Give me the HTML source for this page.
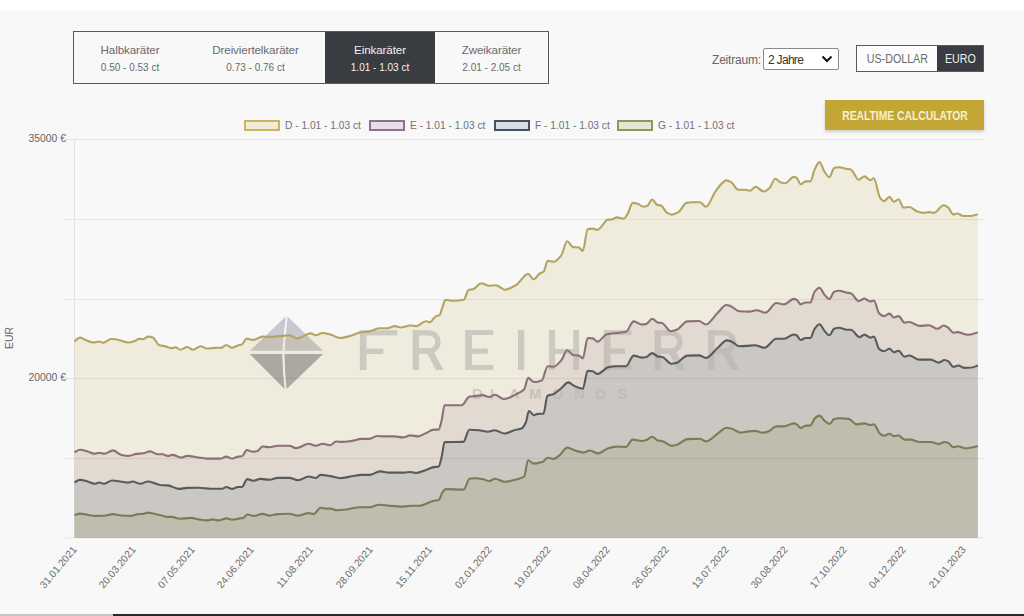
<!DOCTYPE html>
<html><head><meta charset="utf-8">
<style>
*{margin:0;padding:0;box-sizing:border-box}
html,body{width:1024px;height:616px;overflow:hidden;background:#f8f8f8;font-family:"Liberation Sans",sans-serif}
#topw{position:absolute;left:0;top:0;width:1024px;height:11px;background:#fff}
.abs{position:absolute}
#tabs{position:absolute;left:73px;top:31px;width:476px;height:53px;border:1px solid #5a5a5a;display:flex}
.tab{height:51px;text-align:center;color:#6a6a6a;padding-top:10.6px}
.tab .t1{font-size:11.6px;line-height:14px;height:14px;display:block;letter-spacing:-0.1px}
.tab .t2{font-size:10px;line-height:12px;margin-top:5.4px;display:block}
.tab.act{background:#393c41;color:#f2f2f2}
#zeit{position:absolute;left:712px;top:52.5px;font-size:12px;color:#666;letter-spacing:-0.2px}
#sel{position:absolute;left:763px;top:48px;width:76px;height:22px;background:#fff;border:1px solid #8a8a8a;border-radius:2px;font-size:12px;color:#333;padding:3.5px 0 0 4px;letter-spacing:-0.7px}
#cur{position:absolute;left:856px;top:45px;width:128px;height:27px;border:1px solid #5a5a5a;display:flex;font-size:12px}
#cur .u{width:80px;background:#fcfcfc;color:#6a6a6a;text-align:center;padding-top:6px}
#cur span{display:inline-block;transform:scaleX(0.89)}
#cur .e{flex:1;background:#393c41;color:#f0f0f0;text-align:center;padding-top:6px}
#btn{position:absolute;left:825px;top:100px;width:159px;height:30px;background:#c4a636;box-shadow:0 2px 3px rgba(0,0,0,0.18);color:#f8f1cf;font-weight:bold;font-size:12px;text-align:center;line-height:32px}
#btn span{display:inline-block;transform:scaleX(0.86)}
.lg{position:absolute;top:120px;width:36px;height:11px;border:2px solid}
.lt{position:absolute;top:120px;font-size:10.2px;color:#717171;white-space:nowrap}
.yl{position:absolute;font-size:10.4px;color:#666;white-space:nowrap;text-align:right;width:60px}
.xl{position:absolute;font-size:10.2px;color:#6c6c6c;white-space:nowrap;transform-origin:100% 50%;transform:rotate(-50deg);line-height:12px}
#bot1{position:absolute;left:0;top:614px;width:113px;height:2px;background:#c6c6c6}
#bot2{position:absolute;left:113px;top:614px;width:911px;height:2px;background:#2a2a2a}
</style></head><body>
<div id="topw"></div>
<div id="tabs">
 <div class="tab" style="width:112px"><span class="t1">Halbkaräter</span><span class="t2">0.50 - 0.53 ct</span></div>
 <div class="tab" style="width:139px"><span class="t1">Dreiviertelkaräter</span><span class="t2">0.73 - 0.76 ct</span></div>
 <div class="tab act" style="width:110px"><span class="t1">Einkaräter</span><span class="t2">1.01 - 1.03 ct</span></div>
 <div class="tab" style="width:113px"><span class="t1">Zweikaräter</span><span class="t2">2.01 - 2.05 ct</span></div>
</div>
<div id="zeit">Zeitraum:</div>
<div id="sel">2 Jahre<svg class="abs" style="left:57px;top:6px" width="12" height="8" viewBox="0 0 12 8"><path d="M1.5,1.5 L6,6 L10.5,1.5" fill="none" stroke="#111" stroke-width="2"/></svg></div>
<div id="cur"><div class="u"><span>US-DOLLAR</span></div><div class="e"><span>EURO</span></div></div>
<div id="btn"><span>REALTIME CALCULATOR</span></div>

<div class="lg" style="left:244px;background:#f0ead7;border-color:#c9b466"></div><div class="lt" style="left:285px">D - 1.01 - 1.03 ct</div>
<div class="lg" style="left:369px;background:#e8dee8;border-color:#8f7090"></div><div class="lt" style="left:410px">E - 1.01 - 1.03 ct</div>
<div class="lg" style="left:494px;background:#d8dee4;border-color:#405468"></div><div class="lt" style="left:535px">F - 1.01 - 1.03 ct</div>
<div class="lg" style="left:617px;background:#e4e6d6;border-color:#8c9a56"></div><div class="lt" style="left:658px">G - 1.01 - 1.03 ct</div>

<svg class="abs" style="left:0;top:0" width="1024" height="616" viewBox="0 0 1024 616">
<g stroke="#e3e3e3" stroke-width="1">
<line x1="65" y1="139.5" x2="984" y2="139.5"/>
<line x1="65" y1="219.5" x2="75" y2="219.5"/>
<line x1="65" y1="299.5" x2="75" y2="299.5"/>
<line x1="65" y1="378.5" x2="75" y2="378.5"/>
<line x1="65" y1="458.5" x2="75" y2="458.5"/>
<line x1="65" y1="538" x2="984" y2="538"/>
<line x1="74.5" y1="139" x2="74.5" y2="538"/>
</g>
<g opacity="1">
<path d="M286,316.2 L249.8,350.8 L282.3,350.8 Q283.6,333 286,316.2 Z" fill="#c8c8cf"/>
<path d="M287.6,316.6 L323,350.8 L284.6,350.8 Q285.6,333 287.6,316.6 Z" fill="#c8c8cf"/>
<path d="M249.8,353.9 L282.2,353.9 Q282.6,372 284.6,389 Z" fill="#a7aab4"/>
<path d="M323,353.9 L284.5,353.9 Q284.8,372 286.6,389 Z" fill="#a7aab4"/>
</g>
<g fill="#ced0d6" stroke="#ced0d6" stroke-width="0">
<rect x="359.9" y="330.2" width="6.6" height="39.8"/><rect x="359.9" y="330.2" width="37.6" height="5.2"/><rect x="359.9" y="348.6" width="23.4" height="5.4"/>
<rect x="412.6" y="330.2" width="6.4" height="39.8"/><path d="M415.6,332.8 H428.8 A9.1,9.1 0 0 1 428.8,351 H415.6" fill="none" stroke-width="5.3"/><path d="M426.1,351.5 L433.6,351.5 L443.6,370 L436.1,370 Z"/>
<rect x="465.3" y="330.1" width="6.6" height="39.8"/><rect x="465.3" y="330.1" width="28" height="4.9"/><rect x="465.3" y="348.5" width="22.4" height="5.3"/><rect x="465.3" y="365" width="28" height="4.9"/>
<rect x="518" y="330.1" width="6.3" height="39.8"/>
<rect x="549" y="330.1" width="6.1" height="39.8"/><rect x="573.2" y="330.1" width="5.9" height="39.8"/><rect x="549" y="348.9" width="30" height="4.9"/>
<rect x="603.9" y="330.1" width="6.6" height="39.8"/><rect x="603.9" y="330.1" width="27.4" height="4.9"/><rect x="603.9" y="348.5" width="21.1" height="5.3"/><rect x="603.9" y="365" width="27.4" height="4.9"/>
<rect x="654.5" y="330.2" width="6.4" height="39.8"/><path d="M657.5,332.8 H670.7 A9.1,9.1 0 0 1 670.7,351 H657.5" fill="none" stroke-width="5.3"/><path d="M668.0,351.5 L675.5,351.5 L685.5,370 L678.0,370 Z"/>
<rect x="708.1" y="330.2" width="6.4" height="39.8"/><path d="M711.1,332.8 H724.3000000000001 A9.1,9.1 0 0 1 724.3000000000001,351 H711.1" fill="none" stroke-width="5.3"/><path d="M721.6,351.5 L729.1,351.5 L739.1,370 L731.6,370 Z"/>
</g>
<g fill="#d0d1d6" font-family="Liberation Sans" font-size="15" font-weight="bold">
<text x="472" y="398.5">D</text><text x="490" y="398.5">I</text><text x="509" y="398.5">A</text><text x="529" y="398.5">M</text><text x="552" y="398.5">O</text><text x="574" y="398.5">N</text><text x="595" y="398.5">D</text><text x="617" y="398.5">S</text>
</g>

<path d="M74.5,341.5 C76.3,340.2 78.0,337.6 79.8,337.6 C81.7,337.6 83.7,339.2 85.6,339.9 C88.2,340.8 90.8,342.5 93.4,342.5 C95.4,342.5 97.3,341.5 99.3,341.5 C100.6,341.5 101.9,342.9 103.2,342.9 C105.8,342.9 108.4,339.0 111.0,339.0 C113.0,339.0 114.9,339.3 116.9,339.5 C120.8,340.0 124.7,342.5 128.6,342.5 C130.6,342.5 132.5,341.7 134.5,341.1 C136.1,340.6 137.7,338.9 139.3,338.9 C140.6,338.9 141.9,339.1 143.2,339.1 C144.8,339.1 146.5,336.6 148.1,336.6 C149.7,336.6 151.4,337.0 153.0,337.6 C155.0,338.3 156.9,344.3 158.9,345.0 C161.2,345.8 163.4,345.8 165.7,346.4 C167.7,346.9 169.6,348.3 171.6,348.3 C172.9,348.3 174.2,347.3 175.5,347.3 C177.1,347.3 178.7,349.7 180.3,349.7 C182.6,349.7 184.9,347.0 187.2,347.0 C189.1,347.0 191.1,349.7 193.0,349.7 C195.6,349.7 198.3,346.2 200.9,346.2 C202.8,346.2 204.8,348.5 206.7,348.5 C209.3,348.5 211.9,348.0 214.5,347.9 C216.8,347.8 219.1,347.8 221.4,347.7 C223.0,347.6 224.7,345.0 226.3,345.0 C228.2,345.0 230.2,347.7 232.1,347.7 C234.1,347.7 236.0,346.0 238.0,345.4 C239.3,345.0 240.6,344.9 241.9,344.4 C243.5,343.7 245.2,338.6 246.8,338.6 C248.7,338.6 250.7,340.1 252.6,340.1 C254.2,340.1 255.9,339.2 257.5,338.6 C259.1,338.0 260.8,336.6 262.4,336.6 C265.5,336.6 268.6,336.9 271.7,336.9 C277.6,336.9 283.4,335.3 289.3,335.3 C291.9,335.3 294.5,338.4 297.1,338.4 C301.7,338.4 306.2,333.4 310.8,333.4 C312.4,333.4 314.1,335.3 315.7,335.3 C318.0,335.3 320.2,333.0 322.5,333.0 C325.1,333.0 327.7,333.9 330.3,334.5 C333.6,335.3 336.8,338.0 340.1,338.0 C343.3,338.0 346.6,336.9 349.8,336.1 C353.1,335.3 356.3,333.2 359.6,332.6 C362.9,332.0 366.1,332.0 369.4,331.4 C372.6,330.8 375.9,328.3 379.1,328.3 C381.7,328.3 384.4,328.3 387.0,328.3 C389.6,328.3 392.2,326.1 394.8,326.1 C396.7,326.1 398.7,327.5 400.6,327.5 C403.9,327.5 407.1,325.5 410.4,325.5 C412.4,325.5 414.3,326.1 416.3,326.1 C419.5,326.1 422.8,321.3 426.0,321.3 C427.3,321.3 428.6,322.2 429.9,322.2 C431.9,322.2 433.8,317.4 435.8,316.4 C437.1,315.7 438.4,315.9 439.7,315.0 C440.7,314.4 441.6,309.1 442.6,306.6 C443.6,304.1 444.5,299.8 445.5,299.8 C447.5,299.8 449.4,300.7 451.4,300.7 C455.5,300.7 459.6,300.5 463.7,299.8 C465.3,299.5 467.0,290.7 468.6,290.1 C470.2,289.5 471.8,289.6 473.4,289.1 C476.0,288.3 478.7,283.2 481.3,283.2 C483.9,283.2 486.5,285.8 489.1,285.8 C491.4,285.8 493.6,285.2 495.9,285.2 C498.8,285.2 501.8,289.7 504.7,289.7 C508.6,289.7 512.5,287.1 516.4,284.8 C520.3,282.5 524.2,273.9 528.1,273.9 C529.9,273.9 531.8,279.3 533.6,279.3 C535.7,279.3 537.7,274.8 539.8,273.5 C541.1,272.7 542.4,272.6 543.7,271.5 C545.0,270.4 546.4,260.8 547.7,260.8 C549.6,260.8 551.6,261.8 553.5,261.8 C556.1,261.8 558.7,258.6 561.3,255.3 C563.3,252.8 565.2,241.3 567.2,241.3 C569.1,241.3 571.1,246.9 573.0,247.1 C575.0,247.4 576.9,247.2 578.9,247.5 C580.2,247.7 581.5,251.0 582.8,251.0 C584.4,251.0 586.1,229.4 587.7,229.1 C589.3,228.8 591.0,228.6 592.6,228.6 C594.2,228.6 595.9,229.9 597.5,229.9 C599.1,229.9 600.7,227.2 602.3,225.6 C603.9,223.9 605.6,220.0 607.2,219.8 C608.8,219.6 610.5,219.6 612.1,219.4 C613.7,219.2 615.4,217.4 617.0,217.4 C619.3,217.4 621.6,218.5 623.9,218.5 C625.2,218.5 626.5,215.7 627.8,213.6 C629.4,211.0 631.1,202.9 632.7,202.9 C634.3,202.9 636.0,203.4 637.6,203.8 C639.5,204.3 641.5,206.8 643.4,206.8 C644.7,206.8 646.0,206.3 647.3,205.8 C648.9,205.1 650.6,199.5 652.2,199.5 C653.8,199.5 655.5,204.4 657.1,204.8 C658.4,205.1 659.7,205.1 661.0,205.4 C663.0,205.9 664.9,211.4 666.9,212.6 C668.5,213.6 670.2,214.6 671.8,214.6 C674.1,214.6 676.3,213.3 678.6,212.0 C681.2,210.5 683.8,203.4 686.4,202.9 C688.4,202.5 690.3,202.3 692.3,202.3 C694.9,202.3 697.5,202.3 700.1,202.3 C702.0,202.3 704.0,206.8 705.9,206.8 C709.2,206.8 712.4,195.1 715.7,191.1 C719.3,186.7 722.8,180.4 726.4,180.4 C728.0,180.4 729.7,181.4 731.3,182.3 C733.6,183.6 735.9,189.8 738.2,189.8 C740.5,189.8 742.7,189.8 745.0,189.8 C746.6,189.8 748.3,190.7 749.9,190.7 C751.8,190.7 753.8,186.8 755.7,186.8 C758.3,186.8 761.0,191.5 763.6,191.5 C765.5,191.5 767.5,189.8 769.4,188.2 C771.4,186.6 773.3,178.8 775.3,178.8 C776.9,178.8 778.6,181.8 780.2,182.3 C781.8,182.8 783.4,183.3 785.0,183.3 C787.9,183.3 790.9,176.9 793.8,176.9 C794.8,176.9 795.8,177.4 796.8,178.0 C798.1,178.8 799.4,184.3 800.7,184.3 C802.3,184.3 803.9,181.4 805.5,181.4 C807.1,181.4 808.8,181.4 810.4,181.4 C811.8,181.4 813.2,172.3 814.6,169.5 C816.2,166.3 817.9,162.1 819.5,162.1 C821.1,162.1 822.8,169.1 824.4,171.5 C826.0,173.9 827.7,177.3 829.3,177.3 C830.9,177.3 832.6,168.5 834.2,168.0 C835.8,167.5 837.5,167.2 839.1,167.2 C841.7,167.2 844.3,168.4 846.9,168.9 C848.2,169.1 849.5,169.2 850.8,169.5 C853.4,170.2 856.0,179.7 858.6,179.7 C860.6,179.7 862.5,176.4 864.5,176.4 C866.4,176.4 868.4,180.3 870.3,180.3 C871.5,180.3 872.6,178.3 873.8,178.3 C875.9,178.3 878.0,195.2 880.1,197.9 C881.4,199.6 882.7,201.2 884.0,201.2 C885.8,201.2 887.7,196.9 889.5,196.9 C890.9,196.9 892.4,201.8 893.8,201.8 C895.4,201.8 897.0,199.2 898.6,199.2 C900.2,199.2 901.9,207.6 903.5,207.6 C905.5,207.6 907.4,207.0 909.4,207.0 C912.0,207.0 914.6,210.6 917.2,211.5 C919.1,212.1 921.1,212.9 923.0,212.9 C925.0,212.9 926.9,212.1 928.9,212.1 C930.5,212.1 932.2,212.9 933.8,212.9 C937.1,212.9 940.3,205.3 943.6,205.3 C945.2,205.3 946.8,206.5 948.4,207.6 C950.0,208.8 951.7,214.5 953.3,214.5 C954.6,214.5 955.9,213.5 957.2,213.5 C959.2,213.5 961.1,216.0 963.1,216.0 C965.4,216.0 967.6,216.0 969.9,216.0 C972.5,216.0 975.2,214.9 977.8,214.3 L977.8,538 L74.5,538 Z" fill="rgba(188,161,68,0.15)"/>
<path d="M74.5,452.3 C76.3,451.5 78.0,449.8 79.8,449.8 C82.4,449.8 85.0,450.7 87.6,451.4 C89.9,452.0 92.1,453.7 94.4,453.7 C96.0,453.7 97.7,452.7 99.3,452.7 C100.9,452.7 102.6,453.7 104.2,453.7 C107.1,453.7 110.1,450.4 113.0,450.4 C115.6,450.4 118.2,454.1 120.8,454.7 C123.4,455.3 126.0,455.9 128.6,455.9 C131.2,455.9 133.8,454.2 136.4,453.9 C138.7,453.6 140.9,453.6 143.2,453.3 C145.5,453.0 147.8,451.4 150.1,451.4 C152.7,451.4 155.3,454.3 157.9,454.3 C159.5,454.3 161.2,454.3 162.8,454.3 C164.4,454.3 166.1,455.9 167.7,455.9 C169.3,455.9 170.9,454.9 172.5,454.9 C175.4,454.9 178.4,457.6 181.3,457.6 C183.3,457.6 185.2,455.9 187.2,455.9 C190.5,455.9 193.7,456.7 197.0,457.2 C200.2,457.6 203.5,458.6 206.7,458.6 C211.3,458.6 215.8,458.6 220.4,458.6 C222.4,458.6 224.3,456.6 226.3,456.6 C228.2,456.6 230.2,458.6 232.1,458.6 C234.1,458.6 236.0,456.8 238.0,456.6 C239.3,456.4 240.6,456.5 241.9,456.3 C243.5,456.1 245.2,450.0 246.8,450.0 C248.7,450.0 250.7,451.8 252.6,451.8 C254.2,451.8 255.9,451.5 257.5,451.0 C259.1,450.5 260.8,446.5 262.4,446.5 C264.9,446.5 267.3,447.3 269.8,447.3 C272.4,447.3 275.0,445.8 277.6,445.8 C281.5,445.8 285.4,445.8 289.3,445.8 C291.6,445.8 293.8,448.1 296.1,448.1 C300.3,448.1 304.6,443.8 308.8,443.8 C311.1,443.8 313.4,445.8 315.7,445.8 C318.0,445.8 320.2,443.8 322.5,443.8 C325.1,443.8 327.7,445.2 330.3,445.2 C332.3,445.2 334.2,441.5 336.2,441.5 C338.1,441.5 340.1,441.9 342.0,441.9 C345.3,441.9 348.5,441.3 351.8,440.9 C355.1,440.5 358.3,438.9 361.6,438.9 C364.2,438.9 366.8,438.9 369.4,438.9 C372.0,438.9 374.6,436.0 377.2,436.0 C379.8,436.0 382.4,436.4 385.0,436.4 C388.3,436.4 391.5,436.4 394.8,436.4 C397.4,436.4 400.0,437.4 402.6,437.4 C405.2,437.4 407.8,435.4 410.4,435.4 C413.0,435.4 415.6,436.4 418.2,436.4 C420.8,436.4 423.4,434.2 426.0,433.1 C428.6,432.0 431.2,429.6 433.8,429.6 C435.4,429.6 437.1,429.6 438.7,429.6 C439.7,429.6 440.6,424.2 441.6,420.4 C442.6,416.5 443.6,405.2 444.6,405.2 C446.2,405.2 447.9,405.2 449.5,405.2 C453.6,405.2 457.6,405.2 461.7,405.2 C464.3,405.2 466.9,397.0 469.5,396.6 C471.5,396.3 473.4,396.3 475.4,396.1 C477.7,395.9 479.9,395.1 482.2,395.1 C484.5,395.1 486.8,397.0 489.1,397.0 C491.0,397.0 493.0,394.7 494.9,394.7 C497.8,394.7 500.8,399.0 503.7,399.0 C507.9,399.0 512.2,396.2 516.4,394.1 C519.0,392.8 521.6,392.1 524.2,389.2 C525.5,387.8 526.8,377.9 528.1,377.9 C530.1,377.9 532.0,382.0 534.0,382.0 C536.6,382.0 539.2,381.4 541.8,380.4 C543.8,379.6 545.7,366.2 547.7,366.2 C549.6,366.2 551.6,366.8 553.5,366.8 C556.1,366.8 558.7,363.3 561.3,360.3 C563.3,358.1 565.2,350.2 567.2,350.2 C569.1,350.2 571.1,354.6 573.0,355.0 C575.0,355.4 576.9,355.2 578.9,355.6 C580.2,355.8 581.5,358.4 582.8,358.4 C584.4,358.4 586.1,338.0 587.7,338.0 C589.3,338.0 591.0,338.2 592.6,338.4 C594.2,338.6 595.9,341.8 597.5,341.8 C600.4,341.8 603.4,335.3 606.3,334.5 C609.5,333.6 612.8,333.4 616.0,333.0 C619.3,332.6 622.6,332.6 625.9,331.8 C628.5,331.2 631.1,321.4 633.7,321.4 C636.3,321.4 638.9,324.5 641.5,324.5 C643.1,324.5 644.8,324.2 646.4,323.9 C648.3,323.5 650.3,318.7 652.2,318.7 C654.2,318.7 656.1,322.3 658.1,322.6 C659.4,322.8 660.7,322.8 662.0,323.0 C664.9,323.5 667.9,331.2 670.8,331.2 C672.7,331.2 674.7,330.5 676.6,329.8 C680.2,328.5 683.8,321.6 687.4,321.4 C691.3,321.1 695.2,321.0 699.1,321.0 C701.4,321.0 703.6,324.5 705.9,324.5 C709.8,324.5 713.8,316.5 717.7,312.8 C720.6,310.1 723.5,305.0 726.4,305.0 C728.0,305.0 729.7,305.8 731.3,306.4 C733.9,307.4 736.5,311.1 739.1,311.3 C742.4,311.5 745.6,311.6 748.9,311.6 C751.5,311.6 754.1,310.3 756.7,310.3 C759.6,310.3 762.6,312.6 765.5,312.6 C769.1,312.6 772.7,303.0 776.3,303.0 C778.9,303.0 781.5,304.4 784.1,304.4 C787.3,304.4 790.6,298.9 793.8,298.9 C794.8,298.9 795.8,299.4 796.8,299.9 C798.1,300.6 799.4,304.4 800.7,304.4 C802.3,304.4 803.9,302.5 805.5,302.5 C807.1,302.5 808.8,302.5 810.4,302.5 C811.8,302.5 813.2,293.4 814.6,291.7 C816.2,289.7 817.9,287.8 819.5,287.8 C821.1,287.8 822.8,292.8 824.4,294.6 C826.0,296.4 827.7,299.1 829.3,299.1 C830.9,299.1 832.6,292.3 834.2,291.7 C835.8,291.1 837.5,290.7 839.1,290.7 C841.7,290.7 844.3,292.2 846.9,292.7 C848.2,292.9 849.5,293.0 850.8,293.3 C853.4,293.9 856.0,301.1 858.6,301.1 C860.6,301.1 862.5,298.6 864.5,298.6 C866.4,298.6 868.4,301.5 870.3,301.5 C871.5,301.5 872.6,300.5 873.8,300.5 C875.6,300.5 877.3,311.5 879.1,313.2 C880.7,314.7 882.4,316.1 884.0,316.1 C885.8,316.1 887.7,313.6 889.5,313.6 C890.9,313.6 892.4,317.5 893.8,317.5 C895.4,317.5 897.0,316.1 898.6,316.1 C900.6,316.1 902.5,322.6 904.5,322.6 C906.1,322.6 907.8,322.0 909.4,322.0 C912.6,322.0 915.9,325.9 919.1,325.9 C922.4,325.9 925.6,325.3 928.9,325.3 C931.8,325.3 934.8,328.8 937.7,328.8 C939.7,328.8 941.6,325.5 943.6,325.5 C945.2,325.5 946.8,326.8 948.4,327.9 C950.0,329.0 951.7,332.7 953.3,332.7 C954.6,332.7 955.9,332.1 957.2,332.1 C960.8,332.1 964.4,334.7 968.0,334.7 C971.3,334.7 974.5,333.2 977.8,332.5 L977.8,538 L74.5,538 Z" fill="rgba(196,175,178,0.3)"/>
<path d="M74.5,482.5 C76.3,481.6 78.0,479.9 79.8,479.9 C82.4,479.9 85.0,480.8 87.6,481.5 C89.9,482.1 92.1,483.8 94.4,483.8 C96.0,483.8 97.7,482.5 99.3,482.5 C100.9,482.5 102.6,483.8 104.2,483.8 C106.8,483.8 109.4,480.5 112.0,480.5 C114.9,480.5 117.9,481.1 120.8,481.5 C123.4,481.8 126.0,482.5 128.6,482.5 C129.9,482.5 131.2,481.5 132.5,481.5 C135.1,481.5 137.7,483.8 140.3,483.8 C142.9,483.8 145.5,481.5 148.1,481.5 C150.1,481.5 152.0,482.4 154.0,483.0 C155.9,483.6 157.9,484.8 159.8,485.0 C162.4,485.2 165.1,485.2 167.7,485.4 C171.6,485.7 175.5,488.9 179.4,488.9 C182.0,488.9 184.6,488.0 187.2,487.9 C191.1,487.8 195.0,487.7 198.9,487.7 C202.8,487.7 206.7,488.7 210.6,488.7 C214.5,488.7 218.4,488.7 222.3,488.7 C223.6,488.7 225.0,487.0 226.3,487.0 C228.2,487.0 230.2,488.9 232.1,488.9 C234.1,488.9 236.0,487.0 238.0,487.0 C239.3,487.0 240.6,487.0 241.9,487.0 C243.7,487.0 245.5,479.1 247.3,479.1 C249.4,479.1 251.5,480.7 253.6,480.7 C255.9,480.7 258.1,478.9 260.4,478.9 C263.5,478.9 266.7,479.8 269.8,479.8 C272.4,479.8 275.0,477.9 277.6,477.9 C281.5,477.9 285.4,477.9 289.3,477.9 C292.2,477.9 295.2,480.2 298.1,480.2 C301.7,480.2 305.2,476.5 308.8,476.5 C311.1,476.5 313.4,478.0 315.7,478.0 C317.3,478.0 318.9,474.9 320.5,474.9 C323.8,474.9 327.0,475.6 330.3,476.1 C333.6,476.6 336.8,478.2 340.1,478.2 C344.0,478.2 347.9,476.9 351.8,476.3 C355.1,475.8 358.3,474.9 361.6,474.9 C364.2,474.9 366.8,474.9 369.4,474.9 C373.0,474.9 376.5,471.4 380.1,471.4 C383.0,471.4 386.0,472.6 388.9,472.6 C394.1,472.6 399.3,472.6 404.5,472.6 C406.5,472.6 408.4,472.0 410.4,472.0 C412.4,472.0 414.3,473.0 416.3,473.0 C419.5,473.0 422.8,471.1 426.0,470.0 C428.6,469.1 431.2,467.6 433.8,467.1 C435.4,466.8 437.1,466.9 438.7,466.5 C439.7,466.3 440.6,461.1 441.6,457.3 C442.6,453.4 443.6,442.1 444.6,442.1 C450.9,441.9 457.1,442.1 463.4,441.9 C465.4,441.8 467.3,429.8 469.3,429.8 C472.6,429.8 475.8,430.0 479.1,430.2 C482.0,430.4 485.0,431.7 487.9,431.7 C490.2,431.7 492.4,430.2 494.7,430.2 C498.0,430.2 501.2,433.5 504.5,433.5 C507.7,433.5 511.0,431.1 514.2,430.2 C516.8,429.4 519.4,429.4 522.0,428.2 C523.3,427.6 524.6,425.2 525.9,422.3 C526.9,420.1 527.9,411.0 528.9,411.0 C530.5,411.0 532.2,415.1 533.8,415.1 C535.1,415.1 536.4,414.0 537.7,413.9 C539.6,413.7 541.6,413.8 543.5,413.6 C544.8,413.5 546.1,396.8 547.4,396.0 C549.4,394.7 551.5,395.0 553.5,394.1 C556.1,393.0 558.7,390.3 561.3,388.2 C563.6,386.4 565.9,382.4 568.2,382.4 C570.5,382.4 572.7,385.4 575.0,386.3 C577.6,387.4 580.2,388.8 582.8,388.8 C584.4,388.8 586.1,370.7 587.7,370.7 C589.3,370.7 591.0,371.0 592.6,371.3 C594.2,371.6 595.9,374.0 597.5,374.0 C601.1,374.0 604.6,368.1 608.2,367.3 C610.8,366.7 613.4,366.2 616.0,366.2 C619.3,366.2 622.6,366.2 625.9,366.2 C628.5,366.2 631.1,355.6 633.7,355.6 C636.3,355.6 638.9,357.6 641.5,357.6 C643.1,357.6 644.8,357.3 646.4,357.0 C648.3,356.6 650.3,353.1 652.2,353.1 C654.2,353.1 656.1,356.3 658.1,356.6 C659.4,356.8 660.7,356.8 662.0,357.0 C665.3,357.5 668.5,363.8 671.8,363.8 C673.4,363.8 675.0,363.3 676.6,362.9 C680.2,361.9 683.8,355.7 687.4,355.6 C691.3,355.5 695.2,355.4 699.1,355.4 C701.4,355.4 703.6,358.0 705.9,358.0 C709.8,358.0 713.8,351.1 717.7,347.8 C720.8,345.2 723.9,340.4 727.0,340.4 C728.8,340.4 730.5,341.3 732.3,342.0 C734.6,342.9 736.8,346.3 739.1,346.3 C741.7,346.3 744.4,346.1 747.0,345.9 C749.6,345.7 752.2,345.3 754.8,345.3 C758.0,345.3 761.3,347.8 764.5,347.8 C768.4,347.8 772.4,338.8 776.3,338.8 C778.9,338.8 781.5,338.8 784.1,338.8 C787.3,338.8 790.6,334.5 793.8,334.5 C794.8,334.5 795.8,335.0 796.8,335.5 C798.1,336.2 799.4,340.0 800.7,340.0 C802.3,340.0 803.9,338.0 805.5,338.0 C807.1,338.0 808.8,338.0 810.4,338.0 C811.8,338.0 813.2,330.6 814.6,328.8 C816.2,326.7 817.9,324.3 819.5,324.3 C821.1,324.3 822.8,328.9 824.4,330.7 C826.0,332.5 827.7,335.2 829.3,335.2 C830.9,335.2 832.6,329.4 834.2,328.8 C835.8,328.2 837.5,327.8 839.1,327.8 C841.7,327.8 844.3,329.8 846.9,329.8 C848.2,329.8 849.5,329.8 850.8,329.8 C853.7,329.8 856.7,337.2 859.6,337.2 C861.2,337.2 862.9,334.6 864.5,334.6 C866.4,334.6 868.4,337.6 870.3,337.6 C871.5,337.6 872.6,336.6 873.8,336.6 C875.6,336.6 877.3,347.5 879.1,348.9 C880.7,350.2 882.4,351.3 884.0,351.3 C885.8,351.3 887.7,348.7 889.5,348.7 C890.9,348.7 892.4,352.2 893.8,352.2 C895.4,352.2 897.0,350.7 898.6,350.7 C900.6,350.7 902.5,356.7 904.5,356.7 C906.1,356.7 907.8,355.5 909.4,355.5 C912.6,355.5 915.9,359.6 919.1,359.6 C923.0,359.6 927.0,359.6 930.9,359.6 C933.5,359.6 936.1,362.6 938.7,362.6 C940.6,362.6 942.6,360.0 944.5,360.0 C945.8,360.0 947.1,360.7 948.4,361.4 C950.0,362.3 951.7,366.9 953.3,366.9 C954.9,366.9 956.6,365.5 958.2,365.5 C960.2,365.5 962.1,367.9 964.1,367.9 C966.7,367.9 969.3,367.7 971.9,367.5 C973.9,367.3 975.8,366.2 977.8,365.6 L977.8,538 L74.5,538 Z" fill="rgba(180,181,182,0.5)"/>
<path d="M74.5,515.1 C76.3,514.6 78.0,513.6 79.8,513.6 C82.4,513.6 85.0,514.5 87.6,514.9 C90.2,515.3 92.8,515.9 95.4,515.9 C98.3,515.9 101.3,515.8 104.2,515.7 C107.1,515.6 110.1,514.1 113.0,514.1 C115.6,514.1 118.2,515.3 120.8,515.5 C124.0,515.7 127.3,515.9 130.5,515.9 C133.1,515.9 135.8,514.3 138.4,514.1 C140.0,514.0 141.6,514.0 143.2,513.9 C144.8,513.8 146.5,512.6 148.1,512.6 C150.1,512.6 152.0,513.4 154.0,513.8 C156.6,514.3 159.2,514.9 161.8,515.5 C163.8,515.9 165.7,516.9 167.7,516.9 C169.0,516.9 170.3,516.9 171.6,516.9 C174.2,516.9 176.8,518.8 179.4,518.8 C183.3,518.8 187.2,517.9 191.1,517.9 C193.7,517.9 196.3,519.0 198.9,519.4 C201.5,519.8 204.1,520.4 206.7,520.4 C208.7,520.4 210.6,519.4 212.6,519.4 C214.5,519.4 216.5,520.4 218.4,520.4 C221.0,520.4 223.7,518.4 226.3,518.4 C228.2,518.4 230.2,519.8 232.1,519.8 C234.7,519.8 237.3,518.8 239.9,518.4 C240.9,518.3 241.9,518.2 242.9,518.0 C244.5,517.7 246.1,514.5 247.7,514.5 C249.7,514.5 251.6,515.9 253.6,515.9 C256.5,515.9 259.5,513.9 262.4,513.9 C264.9,513.9 267.3,515.6 269.8,515.6 C272.4,515.6 275.0,514.3 277.6,514.1 C281.5,513.9 285.4,513.7 289.3,513.7 C292.2,513.7 295.2,515.6 298.1,515.6 C301.7,515.6 305.2,513.1 308.8,513.1 C310.4,513.1 312.1,514.1 313.7,514.1 C316.0,514.1 318.2,507.8 320.5,507.8 C322.5,507.8 324.4,508.6 326.4,508.6 C327.7,508.6 329.0,508.6 330.3,508.6 C332.6,508.6 334.8,510.2 337.1,510.2 C340.7,510.2 344.3,509.6 347.9,509.2 C351.8,508.7 355.7,507.2 359.6,507.2 C362.9,507.2 366.1,507.2 369.4,507.2 C372.6,507.2 375.9,504.7 379.1,504.7 C382.4,504.7 385.6,505.4 388.9,505.7 C393.5,506.1 398.0,506.6 402.6,506.6 C405.8,506.6 409.1,505.7 412.3,505.7 C414.9,505.7 417.6,505.7 420.2,505.7 C422.1,505.7 424.1,504.4 426.0,503.7 C428.6,502.8 431.2,501.4 433.8,500.8 C435.4,500.4 437.1,500.5 438.7,500.0 C440.0,499.6 441.3,494.0 442.6,492.2 C443.6,490.9 444.5,489.1 445.5,489.1 C451.6,489.1 457.6,489.6 463.7,489.6 C465.6,489.6 467.6,479.2 469.5,478.8 C471.5,478.4 473.4,478.2 475.4,478.2 C478.0,478.2 480.6,478.7 483.2,479.2 C485.2,479.6 487.1,481.2 489.1,481.2 C491.0,481.2 493.0,478.8 494.9,478.8 C498.2,478.8 501.4,481.8 504.7,481.8 C508.6,481.8 512.5,480.5 516.4,479.4 C519.0,478.7 521.6,478.5 524.2,476.5 C525.5,475.5 526.8,460.3 528.1,460.3 C530.1,460.3 532.0,463.6 534.0,463.6 C536.9,463.6 539.9,462.8 542.8,461.8 C544.4,461.2 546.1,457.7 547.7,457.7 C549.6,457.7 551.6,458.9 553.5,458.9 C555.5,458.9 557.4,456.8 559.4,455.4 C562.0,453.5 564.6,447.6 567.2,447.6 C569.8,447.6 572.4,449.8 575.0,450.5 C577.9,451.3 580.9,452.5 583.8,452.5 C585.7,452.5 587.7,450.5 589.6,450.5 C592.5,450.5 595.5,453.4 598.4,453.4 C601.7,453.4 604.9,449.2 608.2,448.2 C610.8,447.4 613.4,446.6 616.0,446.6 C619.3,446.6 622.6,446.9 625.9,446.9 C628.2,446.9 630.4,439.6 632.7,439.6 C635.6,439.6 638.6,441.0 641.5,441.0 C643.1,441.0 644.8,440.5 646.4,440.0 C648.3,439.4 650.3,436.7 652.2,436.7 C654.2,436.7 656.1,440.3 658.1,440.6 C659.4,440.8 660.7,440.8 662.0,441.0 C665.3,441.5 668.5,445.9 671.8,445.9 C673.7,445.9 675.7,445.1 677.6,444.5 C680.9,443.4 684.1,439.3 687.4,439.1 C691.6,438.8 695.9,438.7 700.1,438.7 C702.0,438.7 704.0,441.4 705.9,441.4 C709.8,441.4 713.8,436.2 717.7,433.6 C720.6,431.7 723.5,427.7 726.4,427.7 C728.4,427.7 730.3,428.4 732.3,428.9 C734.9,429.6 737.5,432.6 740.1,432.6 C742.4,432.6 744.7,431.9 747.0,431.6 C749.6,431.3 752.2,430.9 754.8,430.9 C757.4,430.9 760.0,432.8 762.6,432.8 C764.5,432.8 766.5,432.2 768.4,431.6 C771.0,430.8 773.7,426.4 776.3,426.4 C778.9,426.4 781.5,426.4 784.1,426.4 C787.3,426.4 790.6,423.4 793.8,423.4 C794.8,423.4 795.8,423.9 796.8,424.4 C798.1,425.0 799.4,427.9 800.7,427.9 C802.3,427.9 803.9,426.0 805.5,425.8 C807.1,425.6 808.8,425.7 810.4,425.4 C811.8,425.2 813.2,419.9 814.6,418.6 C816.2,417.1 817.9,415.6 819.5,415.6 C821.1,415.6 822.8,419.1 824.4,420.5 C826.0,421.9 827.7,424.0 829.3,424.0 C830.9,424.0 832.6,419.6 834.2,419.1 C835.8,418.6 837.5,418.2 839.1,418.2 C842.3,418.2 845.6,418.5 848.8,418.9 C851.4,419.3 854.0,424.4 856.6,424.4 C859.2,424.4 861.9,423.4 864.5,423.4 C866.4,423.4 868.4,425.0 870.3,425.0 C871.5,425.0 872.6,424.4 873.8,424.4 C875.9,424.4 878.0,432.3 880.1,433.8 C881.4,434.7 882.7,435.7 884.0,435.7 C885.8,435.7 887.7,433.8 889.5,433.8 C890.9,433.8 892.4,436.1 893.8,436.1 C895.4,436.1 897.0,435.5 898.6,435.5 C900.6,435.5 902.5,439.6 904.5,439.6 C906.5,439.6 908.4,439.6 910.4,439.6 C913.3,439.6 916.2,442.0 919.1,442.0 C923.0,442.0 927.0,442.0 930.9,442.0 C933.5,442.0 936.1,443.9 938.7,443.9 C940.6,443.9 942.6,442.0 944.5,442.0 C945.8,442.0 947.1,442.5 948.4,443.0 C950.0,443.6 951.7,447.3 953.3,447.3 C954.9,447.3 956.6,446.3 958.2,446.3 C960.5,446.3 962.7,448.2 965.0,448.2 C967.3,448.2 969.6,447.8 971.9,447.5 C973.9,447.2 975.8,446.6 977.8,446.1 L977.8,538 L74.5,538 Z" fill="rgba(143,149,90,0.2)"/>
<g stroke="rgba(0,0,0,0.065)" stroke-width="1">
<line x1="75" y1="219.5" x2="984" y2="219.5"/>
<line x1="75" y1="299.5" x2="984" y2="299.5"/>
<line x1="75" y1="378.5" x2="984" y2="378.5"/>
<line x1="75" y1="458.5" x2="984" y2="458.5"/>
</g>
<path d="M74.5,341.5 C76.3,340.2 78.0,337.6 79.8,337.6 C81.7,337.6 83.7,339.2 85.6,339.9 C88.2,340.8 90.8,342.5 93.4,342.5 C95.4,342.5 97.3,341.5 99.3,341.5 C100.6,341.5 101.9,342.9 103.2,342.9 C105.8,342.9 108.4,339.0 111.0,339.0 C113.0,339.0 114.9,339.3 116.9,339.5 C120.8,340.0 124.7,342.5 128.6,342.5 C130.6,342.5 132.5,341.7 134.5,341.1 C136.1,340.6 137.7,338.9 139.3,338.9 C140.6,338.9 141.9,339.1 143.2,339.1 C144.8,339.1 146.5,336.6 148.1,336.6 C149.7,336.6 151.4,337.0 153.0,337.6 C155.0,338.3 156.9,344.3 158.9,345.0 C161.2,345.8 163.4,345.8 165.7,346.4 C167.7,346.9 169.6,348.3 171.6,348.3 C172.9,348.3 174.2,347.3 175.5,347.3 C177.1,347.3 178.7,349.7 180.3,349.7 C182.6,349.7 184.9,347.0 187.2,347.0 C189.1,347.0 191.1,349.7 193.0,349.7 C195.6,349.7 198.3,346.2 200.9,346.2 C202.8,346.2 204.8,348.5 206.7,348.5 C209.3,348.5 211.9,348.0 214.5,347.9 C216.8,347.8 219.1,347.8 221.4,347.7 C223.0,347.6 224.7,345.0 226.3,345.0 C228.2,345.0 230.2,347.7 232.1,347.7 C234.1,347.7 236.0,346.0 238.0,345.4 C239.3,345.0 240.6,344.9 241.9,344.4 C243.5,343.7 245.2,338.6 246.8,338.6 C248.7,338.6 250.7,340.1 252.6,340.1 C254.2,340.1 255.9,339.2 257.5,338.6 C259.1,338.0 260.8,336.6 262.4,336.6 C265.5,336.6 268.6,336.9 271.7,336.9 C277.6,336.9 283.4,335.3 289.3,335.3 C291.9,335.3 294.5,338.4 297.1,338.4 C301.7,338.4 306.2,333.4 310.8,333.4 C312.4,333.4 314.1,335.3 315.7,335.3 C318.0,335.3 320.2,333.0 322.5,333.0 C325.1,333.0 327.7,333.9 330.3,334.5 C333.6,335.3 336.8,338.0 340.1,338.0 C343.3,338.0 346.6,336.9 349.8,336.1 C353.1,335.3 356.3,333.2 359.6,332.6 C362.9,332.0 366.1,332.0 369.4,331.4 C372.6,330.8 375.9,328.3 379.1,328.3 C381.7,328.3 384.4,328.3 387.0,328.3 C389.6,328.3 392.2,326.1 394.8,326.1 C396.7,326.1 398.7,327.5 400.6,327.5 C403.9,327.5 407.1,325.5 410.4,325.5 C412.4,325.5 414.3,326.1 416.3,326.1 C419.5,326.1 422.8,321.3 426.0,321.3 C427.3,321.3 428.6,322.2 429.9,322.2 C431.9,322.2 433.8,317.4 435.8,316.4 C437.1,315.7 438.4,315.9 439.7,315.0 C440.7,314.4 441.6,309.1 442.6,306.6 C443.6,304.1 444.5,299.8 445.5,299.8 C447.5,299.8 449.4,300.7 451.4,300.7 C455.5,300.7 459.6,300.5 463.7,299.8 C465.3,299.5 467.0,290.7 468.6,290.1 C470.2,289.5 471.8,289.6 473.4,289.1 C476.0,288.3 478.7,283.2 481.3,283.2 C483.9,283.2 486.5,285.8 489.1,285.8 C491.4,285.8 493.6,285.2 495.9,285.2 C498.8,285.2 501.8,289.7 504.7,289.7 C508.6,289.7 512.5,287.1 516.4,284.8 C520.3,282.5 524.2,273.9 528.1,273.9 C529.9,273.9 531.8,279.3 533.6,279.3 C535.7,279.3 537.7,274.8 539.8,273.5 C541.1,272.7 542.4,272.6 543.7,271.5 C545.0,270.4 546.4,260.8 547.7,260.8 C549.6,260.8 551.6,261.8 553.5,261.8 C556.1,261.8 558.7,258.6 561.3,255.3 C563.3,252.8 565.2,241.3 567.2,241.3 C569.1,241.3 571.1,246.9 573.0,247.1 C575.0,247.4 576.9,247.2 578.9,247.5 C580.2,247.7 581.5,251.0 582.8,251.0 C584.4,251.0 586.1,229.4 587.7,229.1 C589.3,228.8 591.0,228.6 592.6,228.6 C594.2,228.6 595.9,229.9 597.5,229.9 C599.1,229.9 600.7,227.2 602.3,225.6 C603.9,223.9 605.6,220.0 607.2,219.8 C608.8,219.6 610.5,219.6 612.1,219.4 C613.7,219.2 615.4,217.4 617.0,217.4 C619.3,217.4 621.6,218.5 623.9,218.5 C625.2,218.5 626.5,215.7 627.8,213.6 C629.4,211.0 631.1,202.9 632.7,202.9 C634.3,202.9 636.0,203.4 637.6,203.8 C639.5,204.3 641.5,206.8 643.4,206.8 C644.7,206.8 646.0,206.3 647.3,205.8 C648.9,205.1 650.6,199.5 652.2,199.5 C653.8,199.5 655.5,204.4 657.1,204.8 C658.4,205.1 659.7,205.1 661.0,205.4 C663.0,205.9 664.9,211.4 666.9,212.6 C668.5,213.6 670.2,214.6 671.8,214.6 C674.1,214.6 676.3,213.3 678.6,212.0 C681.2,210.5 683.8,203.4 686.4,202.9 C688.4,202.5 690.3,202.3 692.3,202.3 C694.9,202.3 697.5,202.3 700.1,202.3 C702.0,202.3 704.0,206.8 705.9,206.8 C709.2,206.8 712.4,195.1 715.7,191.1 C719.3,186.7 722.8,180.4 726.4,180.4 C728.0,180.4 729.7,181.4 731.3,182.3 C733.6,183.6 735.9,189.8 738.2,189.8 C740.5,189.8 742.7,189.8 745.0,189.8 C746.6,189.8 748.3,190.7 749.9,190.7 C751.8,190.7 753.8,186.8 755.7,186.8 C758.3,186.8 761.0,191.5 763.6,191.5 C765.5,191.5 767.5,189.8 769.4,188.2 C771.4,186.6 773.3,178.8 775.3,178.8 C776.9,178.8 778.6,181.8 780.2,182.3 C781.8,182.8 783.4,183.3 785.0,183.3 C787.9,183.3 790.9,176.9 793.8,176.9 C794.8,176.9 795.8,177.4 796.8,178.0 C798.1,178.8 799.4,184.3 800.7,184.3 C802.3,184.3 803.9,181.4 805.5,181.4 C807.1,181.4 808.8,181.4 810.4,181.4 C811.8,181.4 813.2,172.3 814.6,169.5 C816.2,166.3 817.9,162.1 819.5,162.1 C821.1,162.1 822.8,169.1 824.4,171.5 C826.0,173.9 827.7,177.3 829.3,177.3 C830.9,177.3 832.6,168.5 834.2,168.0 C835.8,167.5 837.5,167.2 839.1,167.2 C841.7,167.2 844.3,168.4 846.9,168.9 C848.2,169.1 849.5,169.2 850.8,169.5 C853.4,170.2 856.0,179.7 858.6,179.7 C860.6,179.7 862.5,176.4 864.5,176.4 C866.4,176.4 868.4,180.3 870.3,180.3 C871.5,180.3 872.6,178.3 873.8,178.3 C875.9,178.3 878.0,195.2 880.1,197.9 C881.4,199.6 882.7,201.2 884.0,201.2 C885.8,201.2 887.7,196.9 889.5,196.9 C890.9,196.9 892.4,201.8 893.8,201.8 C895.4,201.8 897.0,199.2 898.6,199.2 C900.2,199.2 901.9,207.6 903.5,207.6 C905.5,207.6 907.4,207.0 909.4,207.0 C912.0,207.0 914.6,210.6 917.2,211.5 C919.1,212.1 921.1,212.9 923.0,212.9 C925.0,212.9 926.9,212.1 928.9,212.1 C930.5,212.1 932.2,212.9 933.8,212.9 C937.1,212.9 940.3,205.3 943.6,205.3 C945.2,205.3 946.8,206.5 948.4,207.6 C950.0,208.8 951.7,214.5 953.3,214.5 C954.6,214.5 955.9,213.5 957.2,213.5 C959.2,213.5 961.1,216.0 963.1,216.0 C965.4,216.0 967.6,216.0 969.9,216.0 C972.5,216.0 975.2,214.9 977.8,214.3" fill="none" stroke="#b3a561" stroke-width="2.1" stroke-linejoin="round"/>
<path d="M74.5,452.3 C76.3,451.5 78.0,449.8 79.8,449.8 C82.4,449.8 85.0,450.7 87.6,451.4 C89.9,452.0 92.1,453.7 94.4,453.7 C96.0,453.7 97.7,452.7 99.3,452.7 C100.9,452.7 102.6,453.7 104.2,453.7 C107.1,453.7 110.1,450.4 113.0,450.4 C115.6,450.4 118.2,454.1 120.8,454.7 C123.4,455.3 126.0,455.9 128.6,455.9 C131.2,455.9 133.8,454.2 136.4,453.9 C138.7,453.6 140.9,453.6 143.2,453.3 C145.5,453.0 147.8,451.4 150.1,451.4 C152.7,451.4 155.3,454.3 157.9,454.3 C159.5,454.3 161.2,454.3 162.8,454.3 C164.4,454.3 166.1,455.9 167.7,455.9 C169.3,455.9 170.9,454.9 172.5,454.9 C175.4,454.9 178.4,457.6 181.3,457.6 C183.3,457.6 185.2,455.9 187.2,455.9 C190.5,455.9 193.7,456.7 197.0,457.2 C200.2,457.6 203.5,458.6 206.7,458.6 C211.3,458.6 215.8,458.6 220.4,458.6 C222.4,458.6 224.3,456.6 226.3,456.6 C228.2,456.6 230.2,458.6 232.1,458.6 C234.1,458.6 236.0,456.8 238.0,456.6 C239.3,456.4 240.6,456.5 241.9,456.3 C243.5,456.1 245.2,450.0 246.8,450.0 C248.7,450.0 250.7,451.8 252.6,451.8 C254.2,451.8 255.9,451.5 257.5,451.0 C259.1,450.5 260.8,446.5 262.4,446.5 C264.9,446.5 267.3,447.3 269.8,447.3 C272.4,447.3 275.0,445.8 277.6,445.8 C281.5,445.8 285.4,445.8 289.3,445.8 C291.6,445.8 293.8,448.1 296.1,448.1 C300.3,448.1 304.6,443.8 308.8,443.8 C311.1,443.8 313.4,445.8 315.7,445.8 C318.0,445.8 320.2,443.8 322.5,443.8 C325.1,443.8 327.7,445.2 330.3,445.2 C332.3,445.2 334.2,441.5 336.2,441.5 C338.1,441.5 340.1,441.9 342.0,441.9 C345.3,441.9 348.5,441.3 351.8,440.9 C355.1,440.5 358.3,438.9 361.6,438.9 C364.2,438.9 366.8,438.9 369.4,438.9 C372.0,438.9 374.6,436.0 377.2,436.0 C379.8,436.0 382.4,436.4 385.0,436.4 C388.3,436.4 391.5,436.4 394.8,436.4 C397.4,436.4 400.0,437.4 402.6,437.4 C405.2,437.4 407.8,435.4 410.4,435.4 C413.0,435.4 415.6,436.4 418.2,436.4 C420.8,436.4 423.4,434.2 426.0,433.1 C428.6,432.0 431.2,429.6 433.8,429.6 C435.4,429.6 437.1,429.6 438.7,429.6 C439.7,429.6 440.6,424.2 441.6,420.4 C442.6,416.5 443.6,405.2 444.6,405.2 C446.2,405.2 447.9,405.2 449.5,405.2 C453.6,405.2 457.6,405.2 461.7,405.2 C464.3,405.2 466.9,397.0 469.5,396.6 C471.5,396.3 473.4,396.3 475.4,396.1 C477.7,395.9 479.9,395.1 482.2,395.1 C484.5,395.1 486.8,397.0 489.1,397.0 C491.0,397.0 493.0,394.7 494.9,394.7 C497.8,394.7 500.8,399.0 503.7,399.0 C507.9,399.0 512.2,396.2 516.4,394.1 C519.0,392.8 521.6,392.1 524.2,389.2 C525.5,387.8 526.8,377.9 528.1,377.9 C530.1,377.9 532.0,382.0 534.0,382.0 C536.6,382.0 539.2,381.4 541.8,380.4 C543.8,379.6 545.7,366.2 547.7,366.2 C549.6,366.2 551.6,366.8 553.5,366.8 C556.1,366.8 558.7,363.3 561.3,360.3 C563.3,358.1 565.2,350.2 567.2,350.2 C569.1,350.2 571.1,354.6 573.0,355.0 C575.0,355.4 576.9,355.2 578.9,355.6 C580.2,355.8 581.5,358.4 582.8,358.4 C584.4,358.4 586.1,338.0 587.7,338.0 C589.3,338.0 591.0,338.2 592.6,338.4 C594.2,338.6 595.9,341.8 597.5,341.8 C600.4,341.8 603.4,335.3 606.3,334.5 C609.5,333.6 612.8,333.4 616.0,333.0 C619.3,332.6 622.6,332.6 625.9,331.8 C628.5,331.2 631.1,321.4 633.7,321.4 C636.3,321.4 638.9,324.5 641.5,324.5 C643.1,324.5 644.8,324.2 646.4,323.9 C648.3,323.5 650.3,318.7 652.2,318.7 C654.2,318.7 656.1,322.3 658.1,322.6 C659.4,322.8 660.7,322.8 662.0,323.0 C664.9,323.5 667.9,331.2 670.8,331.2 C672.7,331.2 674.7,330.5 676.6,329.8 C680.2,328.5 683.8,321.6 687.4,321.4 C691.3,321.1 695.2,321.0 699.1,321.0 C701.4,321.0 703.6,324.5 705.9,324.5 C709.8,324.5 713.8,316.5 717.7,312.8 C720.6,310.1 723.5,305.0 726.4,305.0 C728.0,305.0 729.7,305.8 731.3,306.4 C733.9,307.4 736.5,311.1 739.1,311.3 C742.4,311.5 745.6,311.6 748.9,311.6 C751.5,311.6 754.1,310.3 756.7,310.3 C759.6,310.3 762.6,312.6 765.5,312.6 C769.1,312.6 772.7,303.0 776.3,303.0 C778.9,303.0 781.5,304.4 784.1,304.4 C787.3,304.4 790.6,298.9 793.8,298.9 C794.8,298.9 795.8,299.4 796.8,299.9 C798.1,300.6 799.4,304.4 800.7,304.4 C802.3,304.4 803.9,302.5 805.5,302.5 C807.1,302.5 808.8,302.5 810.4,302.5 C811.8,302.5 813.2,293.4 814.6,291.7 C816.2,289.7 817.9,287.8 819.5,287.8 C821.1,287.8 822.8,292.8 824.4,294.6 C826.0,296.4 827.7,299.1 829.3,299.1 C830.9,299.1 832.6,292.3 834.2,291.7 C835.8,291.1 837.5,290.7 839.1,290.7 C841.7,290.7 844.3,292.2 846.9,292.7 C848.2,292.9 849.5,293.0 850.8,293.3 C853.4,293.9 856.0,301.1 858.6,301.1 C860.6,301.1 862.5,298.6 864.5,298.6 C866.4,298.6 868.4,301.5 870.3,301.5 C871.5,301.5 872.6,300.5 873.8,300.5 C875.6,300.5 877.3,311.5 879.1,313.2 C880.7,314.7 882.4,316.1 884.0,316.1 C885.8,316.1 887.7,313.6 889.5,313.6 C890.9,313.6 892.4,317.5 893.8,317.5 C895.4,317.5 897.0,316.1 898.6,316.1 C900.6,316.1 902.5,322.6 904.5,322.6 C906.1,322.6 907.8,322.0 909.4,322.0 C912.6,322.0 915.9,325.9 919.1,325.9 C922.4,325.9 925.6,325.3 928.9,325.3 C931.8,325.3 934.8,328.8 937.7,328.8 C939.7,328.8 941.6,325.5 943.6,325.5 C945.2,325.5 946.8,326.8 948.4,327.9 C950.0,329.0 951.7,332.7 953.3,332.7 C954.6,332.7 955.9,332.1 957.2,332.1 C960.8,332.1 964.4,334.7 968.0,334.7 C971.3,334.7 974.5,333.2 977.8,332.5" fill="none" stroke="#8b7079" stroke-width="2.1" stroke-linejoin="round"/>
<path d="M74.5,482.5 C76.3,481.6 78.0,479.9 79.8,479.9 C82.4,479.9 85.0,480.8 87.6,481.5 C89.9,482.1 92.1,483.8 94.4,483.8 C96.0,483.8 97.7,482.5 99.3,482.5 C100.9,482.5 102.6,483.8 104.2,483.8 C106.8,483.8 109.4,480.5 112.0,480.5 C114.9,480.5 117.9,481.1 120.8,481.5 C123.4,481.8 126.0,482.5 128.6,482.5 C129.9,482.5 131.2,481.5 132.5,481.5 C135.1,481.5 137.7,483.8 140.3,483.8 C142.9,483.8 145.5,481.5 148.1,481.5 C150.1,481.5 152.0,482.4 154.0,483.0 C155.9,483.6 157.9,484.8 159.8,485.0 C162.4,485.2 165.1,485.2 167.7,485.4 C171.6,485.7 175.5,488.9 179.4,488.9 C182.0,488.9 184.6,488.0 187.2,487.9 C191.1,487.8 195.0,487.7 198.9,487.7 C202.8,487.7 206.7,488.7 210.6,488.7 C214.5,488.7 218.4,488.7 222.3,488.7 C223.6,488.7 225.0,487.0 226.3,487.0 C228.2,487.0 230.2,488.9 232.1,488.9 C234.1,488.9 236.0,487.0 238.0,487.0 C239.3,487.0 240.6,487.0 241.9,487.0 C243.7,487.0 245.5,479.1 247.3,479.1 C249.4,479.1 251.5,480.7 253.6,480.7 C255.9,480.7 258.1,478.9 260.4,478.9 C263.5,478.9 266.7,479.8 269.8,479.8 C272.4,479.8 275.0,477.9 277.6,477.9 C281.5,477.9 285.4,477.9 289.3,477.9 C292.2,477.9 295.2,480.2 298.1,480.2 C301.7,480.2 305.2,476.5 308.8,476.5 C311.1,476.5 313.4,478.0 315.7,478.0 C317.3,478.0 318.9,474.9 320.5,474.9 C323.8,474.9 327.0,475.6 330.3,476.1 C333.6,476.6 336.8,478.2 340.1,478.2 C344.0,478.2 347.9,476.9 351.8,476.3 C355.1,475.8 358.3,474.9 361.6,474.9 C364.2,474.9 366.8,474.9 369.4,474.9 C373.0,474.9 376.5,471.4 380.1,471.4 C383.0,471.4 386.0,472.6 388.9,472.6 C394.1,472.6 399.3,472.6 404.5,472.6 C406.5,472.6 408.4,472.0 410.4,472.0 C412.4,472.0 414.3,473.0 416.3,473.0 C419.5,473.0 422.8,471.1 426.0,470.0 C428.6,469.1 431.2,467.6 433.8,467.1 C435.4,466.8 437.1,466.9 438.7,466.5 C439.7,466.3 440.6,461.1 441.6,457.3 C442.6,453.4 443.6,442.1 444.6,442.1 C450.9,441.9 457.1,442.1 463.4,441.9 C465.4,441.8 467.3,429.8 469.3,429.8 C472.6,429.8 475.8,430.0 479.1,430.2 C482.0,430.4 485.0,431.7 487.9,431.7 C490.2,431.7 492.4,430.2 494.7,430.2 C498.0,430.2 501.2,433.5 504.5,433.5 C507.7,433.5 511.0,431.1 514.2,430.2 C516.8,429.4 519.4,429.4 522.0,428.2 C523.3,427.6 524.6,425.2 525.9,422.3 C526.9,420.1 527.9,411.0 528.9,411.0 C530.5,411.0 532.2,415.1 533.8,415.1 C535.1,415.1 536.4,414.0 537.7,413.9 C539.6,413.7 541.6,413.8 543.5,413.6 C544.8,413.5 546.1,396.8 547.4,396.0 C549.4,394.7 551.5,395.0 553.5,394.1 C556.1,393.0 558.7,390.3 561.3,388.2 C563.6,386.4 565.9,382.4 568.2,382.4 C570.5,382.4 572.7,385.4 575.0,386.3 C577.6,387.4 580.2,388.8 582.8,388.8 C584.4,388.8 586.1,370.7 587.7,370.7 C589.3,370.7 591.0,371.0 592.6,371.3 C594.2,371.6 595.9,374.0 597.5,374.0 C601.1,374.0 604.6,368.1 608.2,367.3 C610.8,366.7 613.4,366.2 616.0,366.2 C619.3,366.2 622.6,366.2 625.9,366.2 C628.5,366.2 631.1,355.6 633.7,355.6 C636.3,355.6 638.9,357.6 641.5,357.6 C643.1,357.6 644.8,357.3 646.4,357.0 C648.3,356.6 650.3,353.1 652.2,353.1 C654.2,353.1 656.1,356.3 658.1,356.6 C659.4,356.8 660.7,356.8 662.0,357.0 C665.3,357.5 668.5,363.8 671.8,363.8 C673.4,363.8 675.0,363.3 676.6,362.9 C680.2,361.9 683.8,355.7 687.4,355.6 C691.3,355.5 695.2,355.4 699.1,355.4 C701.4,355.4 703.6,358.0 705.9,358.0 C709.8,358.0 713.8,351.1 717.7,347.8 C720.8,345.2 723.9,340.4 727.0,340.4 C728.8,340.4 730.5,341.3 732.3,342.0 C734.6,342.9 736.8,346.3 739.1,346.3 C741.7,346.3 744.4,346.1 747.0,345.9 C749.6,345.7 752.2,345.3 754.8,345.3 C758.0,345.3 761.3,347.8 764.5,347.8 C768.4,347.8 772.4,338.8 776.3,338.8 C778.9,338.8 781.5,338.8 784.1,338.8 C787.3,338.8 790.6,334.5 793.8,334.5 C794.8,334.5 795.8,335.0 796.8,335.5 C798.1,336.2 799.4,340.0 800.7,340.0 C802.3,340.0 803.9,338.0 805.5,338.0 C807.1,338.0 808.8,338.0 810.4,338.0 C811.8,338.0 813.2,330.6 814.6,328.8 C816.2,326.7 817.9,324.3 819.5,324.3 C821.1,324.3 822.8,328.9 824.4,330.7 C826.0,332.5 827.7,335.2 829.3,335.2 C830.9,335.2 832.6,329.4 834.2,328.8 C835.8,328.2 837.5,327.8 839.1,327.8 C841.7,327.8 844.3,329.8 846.9,329.8 C848.2,329.8 849.5,329.8 850.8,329.8 C853.7,329.8 856.7,337.2 859.6,337.2 C861.2,337.2 862.9,334.6 864.5,334.6 C866.4,334.6 868.4,337.6 870.3,337.6 C871.5,337.6 872.6,336.6 873.8,336.6 C875.6,336.6 877.3,347.5 879.1,348.9 C880.7,350.2 882.4,351.3 884.0,351.3 C885.8,351.3 887.7,348.7 889.5,348.7 C890.9,348.7 892.4,352.2 893.8,352.2 C895.4,352.2 897.0,350.7 898.6,350.7 C900.6,350.7 902.5,356.7 904.5,356.7 C906.1,356.7 907.8,355.5 909.4,355.5 C912.6,355.5 915.9,359.6 919.1,359.6 C923.0,359.6 927.0,359.6 930.9,359.6 C933.5,359.6 936.1,362.6 938.7,362.6 C940.6,362.6 942.6,360.0 944.5,360.0 C945.8,360.0 947.1,360.7 948.4,361.4 C950.0,362.3 951.7,366.9 953.3,366.9 C954.9,366.9 956.6,365.5 958.2,365.5 C960.2,365.5 962.1,367.9 964.1,367.9 C966.7,367.9 969.3,367.7 971.9,367.5 C973.9,367.3 975.8,366.2 977.8,365.6" fill="none" stroke="#575b5e" stroke-width="2.1" stroke-linejoin="round"/>
<path d="M74.5,515.1 C76.3,514.6 78.0,513.6 79.8,513.6 C82.4,513.6 85.0,514.5 87.6,514.9 C90.2,515.3 92.8,515.9 95.4,515.9 C98.3,515.9 101.3,515.8 104.2,515.7 C107.1,515.6 110.1,514.1 113.0,514.1 C115.6,514.1 118.2,515.3 120.8,515.5 C124.0,515.7 127.3,515.9 130.5,515.9 C133.1,515.9 135.8,514.3 138.4,514.1 C140.0,514.0 141.6,514.0 143.2,513.9 C144.8,513.8 146.5,512.6 148.1,512.6 C150.1,512.6 152.0,513.4 154.0,513.8 C156.6,514.3 159.2,514.9 161.8,515.5 C163.8,515.9 165.7,516.9 167.7,516.9 C169.0,516.9 170.3,516.9 171.6,516.9 C174.2,516.9 176.8,518.8 179.4,518.8 C183.3,518.8 187.2,517.9 191.1,517.9 C193.7,517.9 196.3,519.0 198.9,519.4 C201.5,519.8 204.1,520.4 206.7,520.4 C208.7,520.4 210.6,519.4 212.6,519.4 C214.5,519.4 216.5,520.4 218.4,520.4 C221.0,520.4 223.7,518.4 226.3,518.4 C228.2,518.4 230.2,519.8 232.1,519.8 C234.7,519.8 237.3,518.8 239.9,518.4 C240.9,518.3 241.9,518.2 242.9,518.0 C244.5,517.7 246.1,514.5 247.7,514.5 C249.7,514.5 251.6,515.9 253.6,515.9 C256.5,515.9 259.5,513.9 262.4,513.9 C264.9,513.9 267.3,515.6 269.8,515.6 C272.4,515.6 275.0,514.3 277.6,514.1 C281.5,513.9 285.4,513.7 289.3,513.7 C292.2,513.7 295.2,515.6 298.1,515.6 C301.7,515.6 305.2,513.1 308.8,513.1 C310.4,513.1 312.1,514.1 313.7,514.1 C316.0,514.1 318.2,507.8 320.5,507.8 C322.5,507.8 324.4,508.6 326.4,508.6 C327.7,508.6 329.0,508.6 330.3,508.6 C332.6,508.6 334.8,510.2 337.1,510.2 C340.7,510.2 344.3,509.6 347.9,509.2 C351.8,508.7 355.7,507.2 359.6,507.2 C362.9,507.2 366.1,507.2 369.4,507.2 C372.6,507.2 375.9,504.7 379.1,504.7 C382.4,504.7 385.6,505.4 388.9,505.7 C393.5,506.1 398.0,506.6 402.6,506.6 C405.8,506.6 409.1,505.7 412.3,505.7 C414.9,505.7 417.6,505.7 420.2,505.7 C422.1,505.7 424.1,504.4 426.0,503.7 C428.6,502.8 431.2,501.4 433.8,500.8 C435.4,500.4 437.1,500.5 438.7,500.0 C440.0,499.6 441.3,494.0 442.6,492.2 C443.6,490.9 444.5,489.1 445.5,489.1 C451.6,489.1 457.6,489.6 463.7,489.6 C465.6,489.6 467.6,479.2 469.5,478.8 C471.5,478.4 473.4,478.2 475.4,478.2 C478.0,478.2 480.6,478.7 483.2,479.2 C485.2,479.6 487.1,481.2 489.1,481.2 C491.0,481.2 493.0,478.8 494.9,478.8 C498.2,478.8 501.4,481.8 504.7,481.8 C508.6,481.8 512.5,480.5 516.4,479.4 C519.0,478.7 521.6,478.5 524.2,476.5 C525.5,475.5 526.8,460.3 528.1,460.3 C530.1,460.3 532.0,463.6 534.0,463.6 C536.9,463.6 539.9,462.8 542.8,461.8 C544.4,461.2 546.1,457.7 547.7,457.7 C549.6,457.7 551.6,458.9 553.5,458.9 C555.5,458.9 557.4,456.8 559.4,455.4 C562.0,453.5 564.6,447.6 567.2,447.6 C569.8,447.6 572.4,449.8 575.0,450.5 C577.9,451.3 580.9,452.5 583.8,452.5 C585.7,452.5 587.7,450.5 589.6,450.5 C592.5,450.5 595.5,453.4 598.4,453.4 C601.7,453.4 604.9,449.2 608.2,448.2 C610.8,447.4 613.4,446.6 616.0,446.6 C619.3,446.6 622.6,446.9 625.9,446.9 C628.2,446.9 630.4,439.6 632.7,439.6 C635.6,439.6 638.6,441.0 641.5,441.0 C643.1,441.0 644.8,440.5 646.4,440.0 C648.3,439.4 650.3,436.7 652.2,436.7 C654.2,436.7 656.1,440.3 658.1,440.6 C659.4,440.8 660.7,440.8 662.0,441.0 C665.3,441.5 668.5,445.9 671.8,445.9 C673.7,445.9 675.7,445.1 677.6,444.5 C680.9,443.4 684.1,439.3 687.4,439.1 C691.6,438.8 695.9,438.7 700.1,438.7 C702.0,438.7 704.0,441.4 705.9,441.4 C709.8,441.4 713.8,436.2 717.7,433.6 C720.6,431.7 723.5,427.7 726.4,427.7 C728.4,427.7 730.3,428.4 732.3,428.9 C734.9,429.6 737.5,432.6 740.1,432.6 C742.4,432.6 744.7,431.9 747.0,431.6 C749.6,431.3 752.2,430.9 754.8,430.9 C757.4,430.9 760.0,432.8 762.6,432.8 C764.5,432.8 766.5,432.2 768.4,431.6 C771.0,430.8 773.7,426.4 776.3,426.4 C778.9,426.4 781.5,426.4 784.1,426.4 C787.3,426.4 790.6,423.4 793.8,423.4 C794.8,423.4 795.8,423.9 796.8,424.4 C798.1,425.0 799.4,427.9 800.7,427.9 C802.3,427.9 803.9,426.0 805.5,425.8 C807.1,425.6 808.8,425.7 810.4,425.4 C811.8,425.2 813.2,419.9 814.6,418.6 C816.2,417.1 817.9,415.6 819.5,415.6 C821.1,415.6 822.8,419.1 824.4,420.5 C826.0,421.9 827.7,424.0 829.3,424.0 C830.9,424.0 832.6,419.6 834.2,419.1 C835.8,418.6 837.5,418.2 839.1,418.2 C842.3,418.2 845.6,418.5 848.8,418.9 C851.4,419.3 854.0,424.4 856.6,424.4 C859.2,424.4 861.9,423.4 864.5,423.4 C866.4,423.4 868.4,425.0 870.3,425.0 C871.5,425.0 872.6,424.4 873.8,424.4 C875.9,424.4 878.0,432.3 880.1,433.8 C881.4,434.7 882.7,435.7 884.0,435.7 C885.8,435.7 887.7,433.8 889.5,433.8 C890.9,433.8 892.4,436.1 893.8,436.1 C895.4,436.1 897.0,435.5 898.6,435.5 C900.6,435.5 902.5,439.6 904.5,439.6 C906.5,439.6 908.4,439.6 910.4,439.6 C913.3,439.6 916.2,442.0 919.1,442.0 C923.0,442.0 927.0,442.0 930.9,442.0 C933.5,442.0 936.1,443.9 938.7,443.9 C940.6,443.9 942.6,442.0 944.5,442.0 C945.8,442.0 947.1,442.5 948.4,443.0 C950.0,443.6 951.7,447.3 953.3,447.3 C954.9,447.3 956.6,446.3 958.2,446.3 C960.5,446.3 962.7,448.2 965.0,448.2 C967.3,448.2 969.6,447.8 971.9,447.5 C973.9,447.2 975.8,446.6 977.8,446.1" fill="none" stroke="#7b7c55" stroke-width="2.1" stroke-linejoin="round"/>
</svg>

<div class="yl" style="left:6px;top:133.2px">35000 €</div>
<div class="yl" style="left:6px;top:372px">20000 €</div>
<div class="abs" style="left:-2px;top:332px;font-size:10.5px;color:#666;transform:rotate(-90deg);transform-origin:50% 50%;width:22px;text-align:center">EUR</div>

<div id="xls"></div>
<div class="xl" style="right:949.5px;top:542px">31.01.2021</div>
<div class="xl" style="right:890.2px;top:542px">20.03.2021</div>
<div class="xl" style="right:830.9px;top:542px">07.05.2021</div>
<div class="xl" style="right:771.7px;top:542px">24.06.2021</div>
<div class="xl" style="right:712.4px;top:542px">11.08.2021</div>
<div class="xl" style="right:653.1px;top:542px">28.09.2021</div>
<div class="xl" style="right:593.8px;top:542px">15.11.2021</div>
<div class="xl" style="right:534.5px;top:542px">02.01.2022</div>
<div class="xl" style="right:475.3px;top:542px">19.02.2022</div>
<div class="xl" style="right:416.0px;top:542px">08.04.2022</div>
<div class="xl" style="right:356.7px;top:542px">26.05.2022</div>
<div class="xl" style="right:297.4px;top:542px">13.07.2022</div>
<div class="xl" style="right:238.1px;top:542px">30.08.2022</div>
<div class="xl" style="right:178.9px;top:542px">17.10.2022</div>
<div class="xl" style="right:119.6px;top:542px">04.12.2022</div>
<div class="xl" style="right:60.3px;top:542px">21.01.2023</div>
<div id="bot1"></div><div id="bot2"></div>
</body></html>
